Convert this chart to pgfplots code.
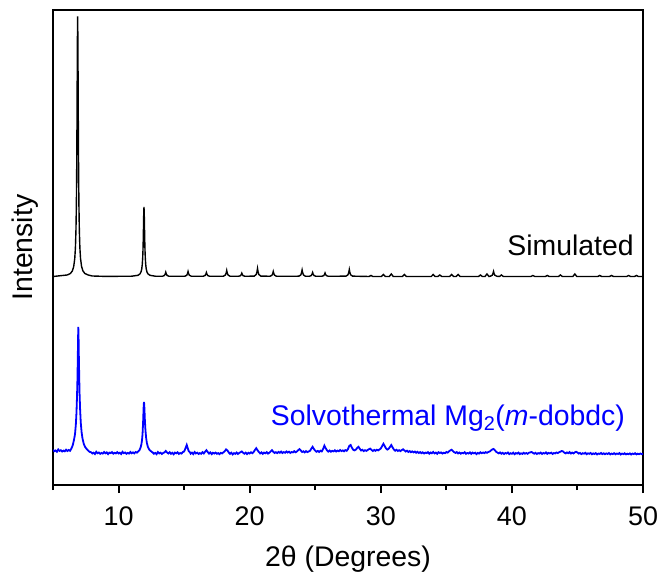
\documentclass[border=0pt]{standalone}
\usepackage{fontspec}
\setmainfont{Liberation Sans}
\usepackage{pgfplots}
\pgfplotsset{compat=1.18}
\usepackage{pgfplotstable}
\definecolor{trblue}{RGB}{0,0,255}

\pgfplotstableread{
x y
5.0 208.5
6.08 210.0
6.33 211.5
6.48 214.2
6.58 218.5
6.66 226.5
6.71 237.3
6.75 254.2
6.78 277.3
6.80 302.1
6.82 338.5
6.84 388.5
6.86 442.5
6.88 468.5
6.90 442.5
6.92 388.5
6.94 338.5
6.96 302.1
6.98 277.3
7.01 254.2
7.05 237.3
7.10 226.5
7.18 218.5
7.28 214.2
7.43 211.5
7.68 210.0
8.0 209.0
9.0 208.6
11.0 208.8
11.49 209.7
11.64 211.2
11.72 213.3
11.77 216.2
11.81 220.7
11.84 227.0
11.86 233.5
11.88 243.3
11.90 256.6
11.92 271.0
11.94 278.0
11.96 271.0
11.98 256.6
12.00 243.3
12.02 233.5
12.04 227.0
12.07 220.7
12.11 216.2
12.16 213.3
12.24 211.2
12.39 209.7
12.8 208.8
13.35 208.7
13.5 209.6
13.56 211.1
13.6 212.8
13.64 211.1
13.7 209.6
13.85 208.7
15.05 208.75
15.2 209.75
15.26 211.5
15.3 213.5
15.34 211.5
15.4 209.75
15.55 208.75
16.45 208.7
16.6 209.5
16.66 210.9
16.7 212.5
16.74 210.9
16.8 209.5
16.95 208.7
18.0 208.8
18.15 210.0
18.21 212.1
18.25 214.5
18.29 212.1
18.35 210.0
18.5 208.8
19.15 208.7
19.3 209.3
19.36 210.5
19.4 211.8
19.44 210.5
19.5 209.3
19.65 208.7
20.35 208.9
20.5 210.5
20.56 213.3
20.6 216.5
20.64 213.3
20.7 210.5
20.85 208.9
21.55 208.75
21.7 209.75
21.76 211.5
21.8 213.5
21.84 211.5
21.9 209.75
22.05 208.75
23.75 208.8
23.9 210.1
23.96 212.4
24.0 215.0
24.04 212.4
24.1 210.1
24.25 208.8
24.55 208.7
24.7 209.5
24.76 210.9
24.8 212.5
24.84 210.9
24.9 209.5
25.05 208.7
25.5 208.7
25.65 209.4
25.71 210.6
25.75 212.0
25.79 210.6
25.85 209.4
26.0 208.7
27.35 208.85
27.5 210.25
27.56 212.7
27.6 215.5
27.64 212.7
27.7 210.25
27.85 208.85
29.1 208.5
29.25 209.5
29.4 208.5
30.05 208.5
30.2 210.5
30.35 208.5
30.65 208.5
30.8 211.0
30.95 208.5
31.65 208.5
31.8 210.5
31.95 208.5
33.85 208.5
34.0 210.5
34.15 208.5
34.35 208.5
34.5 210.0
34.65 208.5
35.25 208.5
35.4 210.5
35.55 208.5
35.75 208.5
35.9 210.5
36.05 208.5
37.45 208.5
37.6 210.0
37.75 208.5
37.95 208.5
38.1 211.0
38.25 208.5
38.35 208.75
38.5 209.75
38.56 211.5
38.6 213.5
38.64 211.5
38.7 209.75
38.85 208.75
39.05 208.5
39.2 210.0
39.35 208.5
41.45 208.5
41.6 209.5
41.75 208.5
42.55 208.5
42.7 209.5
42.85 208.5
43.55 208.5
43.7 210.0
43.85 208.5
44.65 208.5
44.8 211.0
44.95 208.5
46.55 208.5
46.7 209.5
46.85 208.5
47.45 208.5
47.6 209.5
47.75 208.5
48.75 208.5
48.9 209.5
49.05 208.5
49.35 208.5
49.5 209.5
49.65 208.5
50.0 208.5
}\simtable

\pgfplotstableread{
x y
5.0 35.1
5.1 33.8
5.2 34.6
5.3 33.3
5.4 35.5
5.5 34.1
5.6 34.8
5.7 33.5
5.8 34.4
5.9 33.7
6.0 35.3
6.1 34.0
6.2 35.0
6.3 34.2
6.4 36.4
6.5 39.5
6.6 45.0
6.68 51.0
6.74 60.0
6.79 72.0
6.83 88.0
6.86 103.0
6.89 125.0
6.91 145.0
6.93 158.0
6.95 148.0
6.97 130.0
7.0 108.0
7.03 90.0
7.07 75.0
7.12 62.0
7.18 53.0
7.25 46.5
7.35 41.0
7.45 38.0
7.6 35.5
7.7 34.2
7.8 33.1
7.9 32.8
8.0 31.5
8.1 32.3
8.2 31.0
8.3 33.2
8.4 31.8
8.5 32.5
8.6 31.2
8.7 32.1
8.8 31.4
8.9 33.0
9.0 31.7
9.1 32.6
9.2 30.9
9.3 32.4
9.4 31.9
9.5 32.9
9.6 31.3
9.7 32.2
9.8 31.6
9.9 32.8
10.0 31.5
10.1 32.3
10.2 31.0
10.3 33.2
10.4 31.8
10.5 32.5
10.6 31.2
10.7 32.1
10.8 31.4
10.9 33.0
11.0 31.7
11.1 32.6
11.2 31.6
11.3 33.0
11.4 32.4
11.5 33.6
11.6 35.0
11.68 37.5
11.74 40.5
11.79 45.0
11.83 51.0
11.87 62.0
11.9 73.0
11.92 80.0
11.94 83.0
11.96 80.0
11.98 74.0
12.01 64.0
12.05 55.0
12.1 47.5
12.16 42.0
12.24 38.0
12.34 35.5
12.45 34.0
12.55 33.0
12.6 32.6
12.7 31.3
12.8 32.1
12.9 30.8
13.0 33.0
13.1 31.6
13.2 32.3
13.3 31.0
13.4 32.0
13.5 32.6
13.6 34.0
13.7 32.5
13.8 31.5
13.9 32.8
14.0 31.2
14.1 32.2
14.2 30.7
14.3 32.4
14.4 31.7
14.5 32.7
14.6 31.1
14.7 32.0
14.8 31.4
14.9 32.9
15.0 33.5
15.1 36.5
15.2 40.0
15.27 37.0
15.35 34.0
15.45 32.5
15.5 31.3
15.6 32.4
15.7 30.9
15.8 33.0
15.9 31.6
16.0 32.3
16.1 31.0
16.2 31.9
16.3 31.2
16.4 32.8
16.5 31.5
16.6 33.2
16.7 34.8
16.8 33.0
16.9 31.4
17.0 32.6
17.1 30.9
17.2 32.2
17.3 31.5
17.4 32.4
17.5 31.2
17.6 31.9
17.7 30.8
17.8 32.1
17.9 31.6
18.0 32.7
18.1 33.8
18.2 35.6
18.3 34.6
18.4 32.6
18.5 31.1
18.6 32.3
18.7 30.6
18.8 31.9
18.9 31.2
19.0 32.5
19.1 31.0
19.2 32.0
19.3 32.8
19.4 33.6
19.5 32.2
19.6 31.3
19.7 32.4
19.8 30.9
19.9 32.2
20.0 31.5
20.1 32.7
20.2 31.8
20.3 33.0
20.4 35.0
20.5 36.8
20.6 34.8
20.7 33.0
20.8 31.6
20.9 32.6
21.0 31.1
21.1 32.4
21.2 31.7
21.3 32.9
21.4 31.4
21.5 32.3
21.6 33.5
21.7 34.8
21.8 33.2
21.9 32.0
22.0 32.8
22.1 31.9
22.2 33.1
22.3 32.2
22.4 33.4
22.5 32.0
22.6 32.9
22.7 32.3
22.8 33.6
22.9 32.5
23.0 33.3
23.1 32.1
23.2 33.0
23.3 32.6
23.4 33.8
23.5 32.7
23.6 33.5
23.7 34.8
23.8 35.9
23.9 34.5
24.0 33.0
24.1 33.7
24.2 32.6
24.3 33.9
24.4 32.9
24.5 33.5
24.6 34.2
24.7 36.2
24.8 38.2
24.9 36.0
25.0 34.3
25.1 33.2
25.2 34.1
25.3 33.0
25.4 34.3
25.5 33.6
25.6 36.0
25.7 39.4
25.8 36.8
25.9 34.6
26.0 33.4
26.1 34.5
26.2 33.3
26.3 34.2
26.4 33.6
26.5 34.8
26.6 33.5
26.7 34.4
26.8 33.8
26.9 35.0
27.0 33.9
27.1 34.6
27.2 33.7
27.3 34.9
27.4 34.2
27.5 36.0
27.6 39.2
27.7 40.0
27.8 37.3
27.9 35.2
28.0 34.6
28.1 35.4
28.2 37.0
28.3 38.2
28.4 36.2
28.5 34.5
28.6 35.2
28.7 33.9
28.8 34.8
28.9 34.1
29.0 35.0
29.1 35.8
29.2 36.4
29.3 35.0
29.4 34.0
29.5 35.1
29.6 34.2
29.7 35.3
29.8 34.6
29.9 35.5
30.0 36.5
30.1 38.8
30.2 41.2
30.3 39.0
30.4 36.5
30.5 35.4
30.6 36.2
30.7 38.0
30.8 40.0
30.9 37.6
31.0 35.5
31.1 34.3
31.2 35.2
31.3 34.0
31.4 34.8
31.5 33.9
31.6 34.9
31.7 35.7
31.8 34.6
31.9 33.5
32.0 34.3
32.1 33.0
32.2 33.9
32.3 32.8
32.4 33.6
32.5 32.6
32.6 33.4
32.7 32.2
32.8 33.2
32.9 32.0
33.0 32.9
33.1 31.8
33.2 32.7
33.3 31.5
33.4 32.4
33.5 31.9
33.6 32.9
33.7 31.3
33.8 32.5
33.9 31.7
34.0 33.0
34.1 31.6
34.2 32.4
34.3 31.2
34.4 32.8
34.5 32.0
34.6 32.6
34.7 31.4
34.8 32.3
34.9 31.8
35.0 33.0
35.1 32.4
35.2 33.6
35.3 34.6
35.4 35.2
35.5 34.0
35.6 32.8
35.7 32.1
35.8 32.9
35.9 31.6
36.0 32.5
36.1 31.3
36.2 32.2
36.3 31.7
36.4 32.8
36.5 31.2
36.6 32.0
36.7 31.5
36.8 32.6
36.9 31.1
37.0 32.4
37.1 31.6
37.2 32.3
37.3 30.9
37.4 32.1
37.5 31.4
37.6 32.7
37.7 31.8
37.8 32.5
37.9 31.9
38.0 32.8
38.1 32.2
38.2 33.0
38.3 33.4
38.4 34.5
38.5 35.6
38.6 36.0
38.7 34.8
38.8 33.2
38.9 32.4
39.0 31.6
39.1 32.6
39.2 31.3
39.3 32.2
39.4 31.0
39.5 32.0
39.6 31.5
39.7 32.5
39.8 30.9
39.9 31.8
40.0 31.2
40.1 32.3
40.2 30.8
40.3 31.9
40.4 31.4
40.5 32.4
40.6 30.9
40.7 31.7
40.8 31.1
40.9 32.2
41.0 31.3
41.1 32.0
41.2 31.2
41.3 32.3
41.4 32.6
41.5 33.0
41.6 32.1
41.7 31.3
41.8 32.2
41.9 31.0
42.0 31.9
42.1 31.4
42.2 32.4
42.3 31.1
42.4 32.0
42.5 31.5
42.6 32.6
42.7 31.2
42.8 32.1
42.9 31.6
43.0 32.3
43.1 31.0
43.2 32.0
43.3 31.6
43.4 32.5
43.5 31.9
43.6 32.8
43.7 33.3
43.8 34.0
43.9 33.6
44.0 32.4
44.1 31.6
44.2 32.6
44.3 31.8
44.4 32.9
44.5 31.5
44.6 32.4
44.7 31.6
44.8 32.7
44.9 33.2
45.0 32.5
45.1 31.4
45.2 32.1
45.3 30.9
45.4 31.8
45.5 31.3
45.6 32.2
45.7 30.8
45.8 31.7
45.9 31.2
46.0 32.0
46.1 30.7
46.2 31.6
46.3 31.0
46.4 31.9
46.5 30.6
46.6 31.5
46.7 31.1
46.8 32.0
46.9 30.9
47.0 31.7
47.1 30.8
47.2 31.6
47.3 31.0
47.4 31.9
47.5 30.6
47.6 31.4
47.7 30.9
47.8 31.8
47.9 30.7
48.0 31.5
48.1 31.0
48.2 31.9
48.3 30.5
48.4 31.4
48.5 30.9
48.6 31.7
48.7 30.6
48.8 31.3
48.9 30.8
49.0 31.6
49.1 30.5
49.2 31.4
49.3 30.9
49.4 31.8
49.5 30.6
49.6 31.3
49.7 30.8
49.8 31.5
49.9 30.9
50.0 31.2
}\exptable

\begin{document}
\begin{tikzpicture}
\begin{axis}[
  name=ax,
  scale only axis,
  width=590bp, height=475bp,
  xmin=5, xmax=50, ymin=0, ymax=475,
  xtick={10,20,30,40,50},
  minor xtick={5,15,25,35,45},
  ytick=\empty,
  xtick pos=bottom,
  tick align=outside,
  major tick length=8bp,
  minor tick length=5bp,
  every tick/.style={black, line width=2bp},
  axis line style={line width=2.1bp},
  /pgf/number format/assume math mode=true,
  ticklabel style={font=\fontsize{27}{32}\selectfont},
  xticklabel style={yshift=-10bp},
  xlabel={2θ (Degrees)},
  ylabel={Intensity},
  label style={font=\fontsize{28.5}{34}\selectfont},
  xlabel style={at={(axis description cs:0.5,-0.1726)}, anchor=base},
  ylabel style={at={(axis description cs:-0.0339,0.5)}, anchor=base},
]
\addplot[black, line width=1.4bp] table[x=x,y=y] {\simtable};
\addplot[trblue, line width=1.8bp] table[x=x,y=y] {\exptable};
\node[anchor=base east, inner sep=0pt, font=\fontsize{28.5}{34}\selectfont] at (axis cs:49.3,229) {Simulated};
\node[anchor=base east, inner sep=0pt, text=trblue, font=\fontsize{28.5}{34}\selectfont] at (axis cs:48.63,60) {Solvothermal Mg\textsubscript{2}(\textit{m}-dobdc)};
\end{axis}
\pgfresetboundingbox
\path[use as bounding box] ([shift={(-53bp,-92bp)}]ax.south west) rectangle ([shift={(16bp,10bp)}]ax.north east);
\end{tikzpicture}
\end{document}
